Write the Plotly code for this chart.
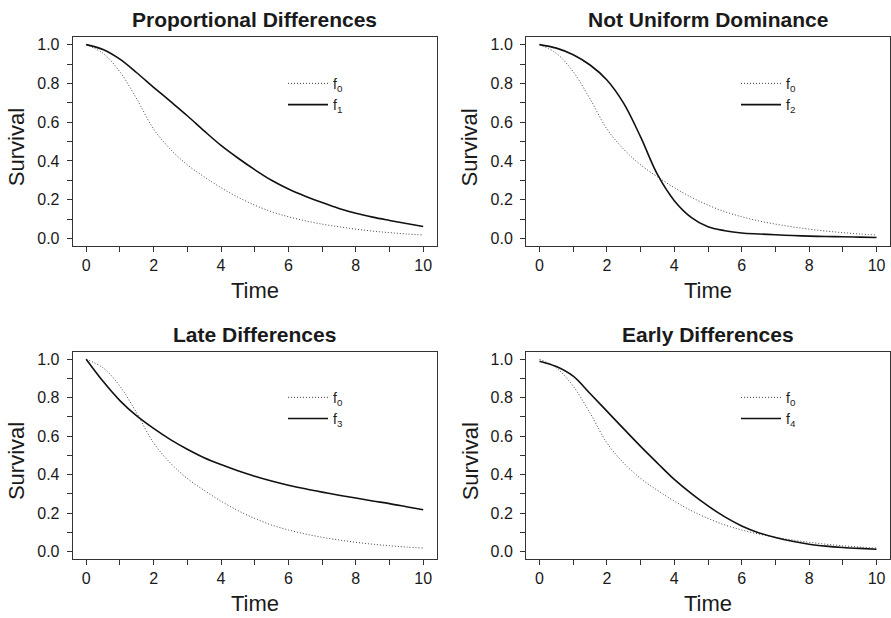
import plotly.graph_objects as go

# ---- data ----
time = [0, 0.5, 1, 1.5, 2, 2.5, 3, 3.5, 4, 4.5, 5, 5.5, 6, 6.5, 7, 7.5, 8, 8.5, 9, 9.5, 10]
f0 = [1.0, 0.955, 0.86, 0.72, 0.565, 0.46, 0.38, 0.318, 0.262, 0.213, 0.172, 0.138, 0.112,
      0.091, 0.074, 0.060, 0.048, 0.038, 0.030, 0.023, 0.018]
f1 = [1.0, 0.975, 0.925, 0.855, 0.78, 0.707, 0.633, 0.555, 0.48, 0.415, 0.355, 0.30, 0.255,
      0.218, 0.185, 0.155, 0.13, 0.11, 0.093, 0.077, 0.062]
f2 = [1.0, 0.982, 0.948, 0.895, 0.818, 0.697, 0.524, 0.33, 0.195, 0.109, 0.06, 0.04, 0.028,
      0.023, 0.019, 0.015, 0.012, 0.010, 0.009, 0.007, 0.005]
f3 = [1.0, 0.885, 0.785, 0.705, 0.64, 0.582, 0.532, 0.488, 0.452, 0.42, 0.392, 0.367, 0.345,
      0.326, 0.309, 0.293, 0.278, 0.263, 0.249, 0.233, 0.217]
f4 = [0.99, 0.962, 0.912, 0.822, 0.73, 0.638, 0.547, 0.46, 0.375, 0.302, 0.237, 0.18, 0.133,
      0.098, 0.073, 0.053, 0.038, 0.028, 0.021, 0.016, 0.012]

titles = ["Proportional Differences", "Not Uniform Dominance", "Late Differences", "Early Differences"]
alt_series = [f1, f2, f3, f4]
alt_names = ["f<sub>1</sub>", "f<sub>2</sub>", "f<sub>3</sub>", "f<sub>4</sub>"]
base_name = "f<sub>0</sub>"

x_ticks = list(range(0, 11))
x_labels = [str(v) if v % 2 == 0 else "" for v in x_ticks]
y_ticks = [i / 10 for i in range(0, 11)]
y_labels = [f"{v:.1f}" if i % 2 == 0 else "" for i, v in enumerate(y_ticks)]

W, H = 891, 618
FONT = "Liberation Sans, Arial, Helvetica, sans-serif"
TXT = "#1a1a1a"

# panel boxes in pixels: (left, right, top, bottom)
boxes = [(72.7, 436.7, 36, 246), (526, 890, 36, 246),
         (72.7, 436.7, 351.7, 560), (526, 890, 351.7, 560)]
legend_pos = [(283, 67), (736, 67), (283, 382), (736, 382)]


def px(xp):
    return xp / W


def py(yp):
    return 1 - yp / H


fig = go.Figure()
annotations = []
for i in range(4):
    k = "" if i == 0 else str(i + 1)
    lg = "legend" + k
    fig.add_trace(go.Scatter(x=time, y=f0, mode="lines", name=base_name,
                             line=dict(color="#444444", width=1, dash="1px,2px", shape="spline", smoothing=1.0),
                             xaxis="x" + k, yaxis="y" + k, legend=lg))
    fig.add_trace(go.Scatter(x=time, y=alt_series[i], mode="lines", name=alt_names[i],
                             line=dict(color="#111111", width=1.6, shape="spline", smoothing=1.0),
                             xaxis="x" + k, yaxis="y" + k, legend=lg))
    l, r, t, b = boxes[i]
    common = dict(showline=True, linecolor="#333333", linewidth=1, mirror=True,
                  ticks="outside", ticklen=5, tickwidth=1, tickcolor="#333333",
                  showgrid=False, zeroline=False,
                  tickfont=dict(family=FONT, size=16, color=TXT))
    fig.update_layout({
        "xaxis" + k: dict(domain=[px(l), px(r)], range=[-0.4, 10.4], tickvals=x_ticks, ticktext=x_labels,
                          anchor="y" + k, ticklabelstandoff=0, **common),
        "yaxis" + k: dict(domain=[py(b), py(t)], range=[-0.04, 1.04], tickvals=y_ticks, ticktext=y_labels,
                          anchor="x" + k, ticklabelstandoff=4, **common),
        lg: dict(x=px(legend_pos[i][0]), y=py(legend_pos[i][1]), xanchor="left", yanchor="top",
                 bgcolor="rgba(0,0,0,0)", borderwidth=0, itemwidth=40,
                 font=dict(family=FONT, size=14, color=TXT)),
    })
    cx = (l + r) / 2
    annotations.append(dict(text="<b>" + titles[i] + "</b>", x=px(cx), y=py(t - 17),
                            xref="paper", yref="paper", showarrow=False,
                            xanchor="center", yanchor="middle",
                            font=dict(family=FONT, size=21, color=TXT)))
    annotations.append(dict(text="Time", x=px(cx), y=py(b + 44),
                            xref="paper", yref="paper", showarrow=False,
                            xanchor="center", yanchor="middle",
                            font=dict(family=FONT, size=22, color=TXT)))
    annotations.append(dict(text="Survival", x=px(l - 56), y=py((t + b) / 2 + 6),
                            xref="paper", yref="paper", showarrow=False, textangle=-90,
                            xanchor="center", yanchor="middle",
                            font=dict(family=FONT, size=22, color=TXT)))

fig.update_layout(width=W, height=H, margin=dict(l=0, r=0, t=0, b=0),
                  paper_bgcolor="white", plot_bgcolor="white",
                  annotations=annotations, showlegend=True)
fig.write_html("out.html", config={"displayModeBar": False},
               post_script="document.body.style.margin='0px';"
                           "document.documentElement.style.overflow='hidden';")
